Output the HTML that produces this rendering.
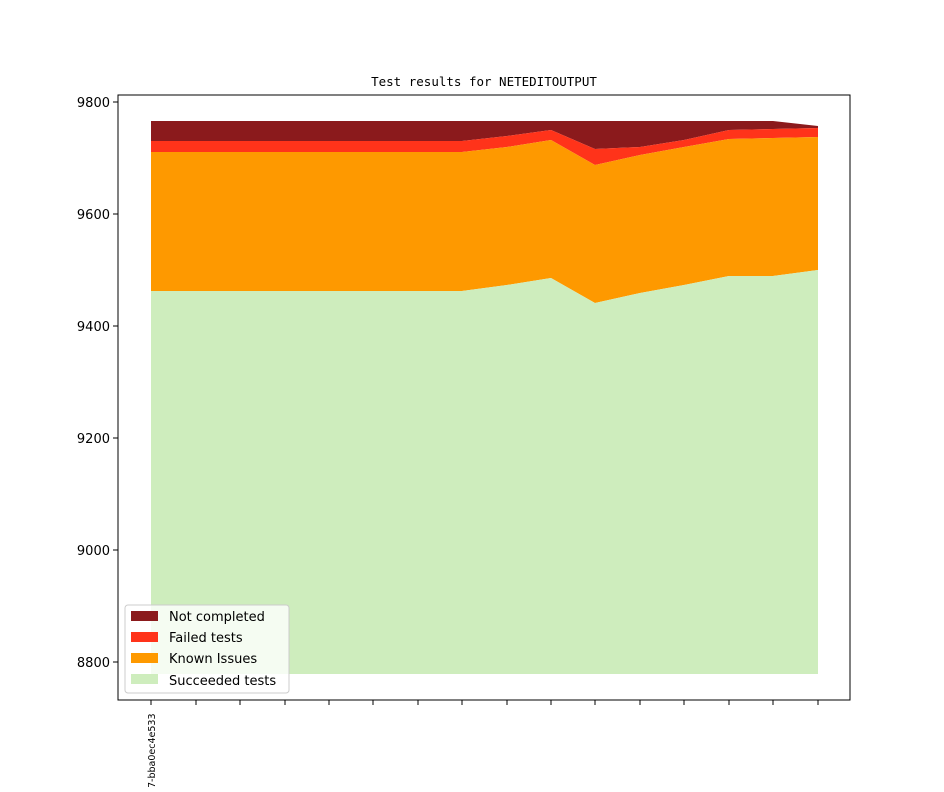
<!DOCTYPE html>
<html><head><meta charset="utf-8"><style>body{margin:0;background:#fff}</style></head><body>
<svg width="944" height="787" xmlns="http://www.w3.org/2000/svg" font-family="DejaVu Sans, Liberation Sans, sans-serif">
<rect width="944" height="787" fill="#fff"/>
<text x="484" y="86" text-anchor="middle" font-family="DejaVu Sans Mono, Liberation Mono, monospace" font-size="12.5">Test results for NETEDITOUTPUT</text>
<polygon fill="#8b1a1c" points="151,121 773,121 818,126 818,128 773,129 729,130 684,140 640,147 595,149 551,130 507,136 462,141 151,141"/>
<polygon fill="#ff331a" points="151,141 462,141 507,136 551,130 595,149 640,147 684,140 729,130 773,129 818,128 818,137 773,138 729,139 684,147 640,155 595,165 551,140 507,147 462,152 151,152"/>
<polygon fill="#fe9900" points="151,152 462,152 507,147 551,140 595,165 640,155 684,147 729,139 773,138 818,137 818,270 773,276 729,276 684,285 640,293 595,303 551,278 507,285 462,291 151,291"/>
<polygon fill="#ceedbd" points="151,291 462,291 507,285 551,278 595,303 640,293 684,285 729,276 773,276 818,270 818,674 151,674"/>
<rect x="118" y="95" width="732" height="605" fill="none" stroke="#000" stroke-width="1"/>
<g stroke="#000">
<line x1="113" y1="102" x2="118" y2="102"/><line x1="113" y1="214" x2="118" y2="214"/><line x1="113" y1="326" x2="118" y2="326"/><line x1="113" y1="438" x2="118" y2="438"/><line x1="113" y1="550" x2="118" y2="550"/><line x1="113" y1="662" x2="118" y2="662"/>
<g transform="translate(0,700)">
<line x1="151" x2="151" y2="5"/><line x1="196" x2="196" y2="5"/><line x1="240" x2="240" y2="5"/><line x1="285" x2="285" y2="5"/><line x1="329" x2="329" y2="5"/><line x1="373" x2="373" y2="5"/><line x1="418" x2="418" y2="5"/><line x1="462" x2="462" y2="5"/><line x1="507" x2="507" y2="5"/><line x1="551" x2="551" y2="5"/><line x1="595" x2="595" y2="5"/><line x1="640" x2="640" y2="5"/><line x1="684" x2="684" y2="5"/><line x1="729" x2="729" y2="5"/><line x1="773" x2="773" y2="5"/><line x1="818" x2="818" y2="5"/>
</g></g>
<g font-size="13" text-anchor="end">
<text x="110" y="107">9800</text><text x="110" y="219">9600</text><text x="110" y="331">9400</text><text x="110" y="443">9200</text><text x="110" y="555">9000</text><text x="110" y="667">8800</text>
</g>
<text transform="translate(155,788) rotate(-90)" font-size="9.5">7-bba0ec4e533</text>
<rect x="125" y="605" width="164" height="88" rx="3" fill="#fff" fill-opacity="0.8" stroke="#ccc"/>
<rect x="131" y="611" width="27" height="10" fill="#8b1a1c"/>
<rect x="131" y="632" width="27" height="10" fill="#ff331a"/>
<rect x="131" y="653" width="27" height="10" fill="#fe9900"/>
<rect x="131" y="674" width="27" height="10" fill="#ceedbd"/>
<g font-size="13">
<text x="169" y="621">Not completed</text><text x="169" y="642">Failed tests</text><text x="169" y="663">Known Issues</text><text x="169" y="685">Succeeded tests</text>
</g>
</svg>
</body></html>
